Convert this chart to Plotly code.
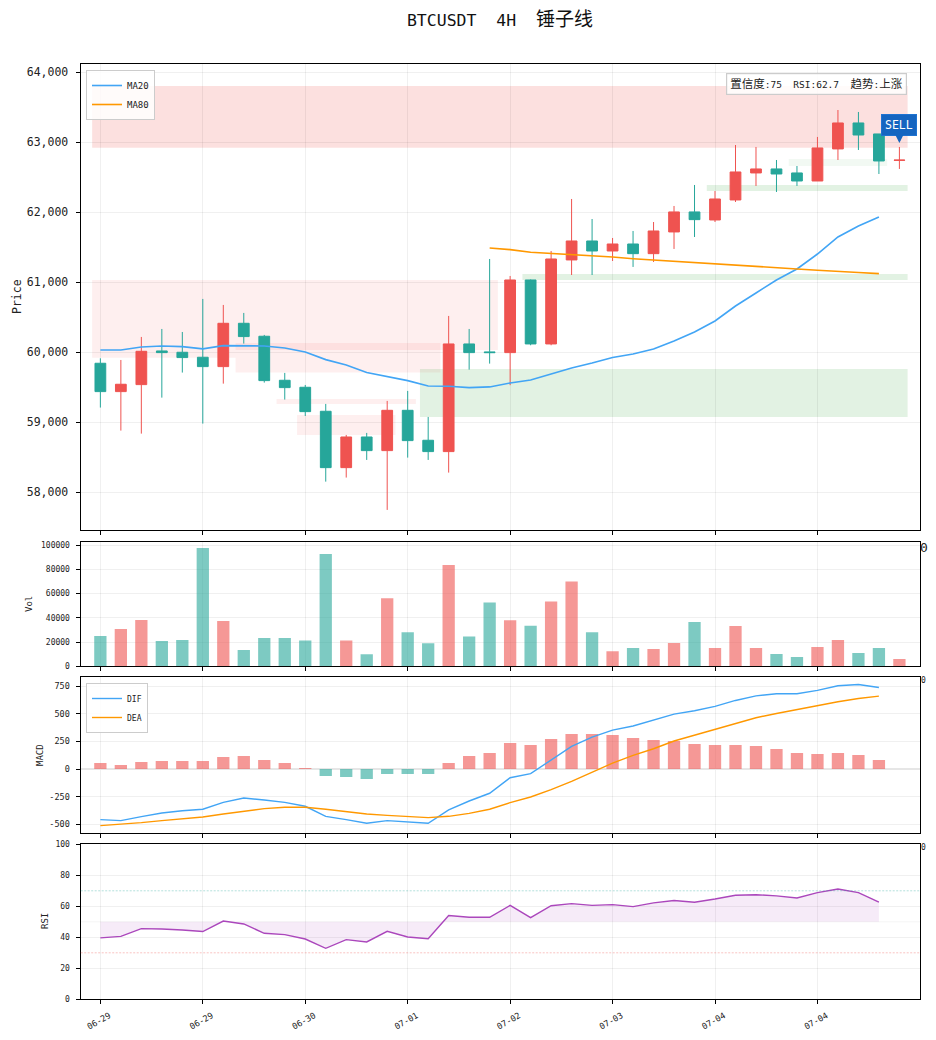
import plotly.graph_objects as go
from plotly.subplots import make_subplots

# candle data, 4H bars
idx = list(range(40))
opens = [59843, 59438, 59538, 60019, 60000, 59929, 59795, 60414, 60229, 59600,
         59500, 59157, 58352, 58790, 58595, 59171, 58743, 58581, 60119, 60005,
         59995, 61033, 60119, 61319, 61590, 61447, 61547, 61409, 61719, 62005,
         61890, 62176, 62562, 62619, 62562, 62447, 62905, 63276, 63119, 62742]
highs = [59914, 59890, 60219, 60333, 60290, 60762, 60676, 60562, 60248, 59705,
         59533, 59262, 58819, 58848, 59305, 59448, 59076, 60519, 60333, 61333,
         61090, 61040, 61447, 62190, 61904, 61633, 61733, 61861, 62090, 62390,
         62304, 62961, 62933, 62747, 62661, 63076, 63461, 63433, 63119, 62933]
lows = [59210, 58881, 58838, 59352, 59710, 58981, 59552, 60124, 59567, 59324,
        59090, 58152, 58210, 58462, 57748, 58495, 58462, 58281, 59752, 59838,
        59530, 60100, 60100, 61104, 61104, 61304, 61219, 61290, 61476, 61647,
        61861, 62147, 62376, 62290, 62376, 62447, 62747, 62890, 62547, 62619]
closes = [59438, 59543, 60014, 59995, 59924, 59795, 60414, 60224, 59595, 59495,
          59152, 58352, 58790, 58595, 59171, 58738, 58581, 60119, 59995, 59995,
          61033, 60119, 61333, 61590, 61447, 61547, 61409, 61733, 62005, 61895,
          62190, 62576, 62619, 62547, 62447, 62919, 63276, 63104, 62733, 62745]

ma20 = [60033, 60033, 60076, 60090, 60081, 60048, 60095, 60095, 60090, 60062,
        60005, 59895, 59819, 59710, 59657, 59595, 59519, 59514, 59495, 59505,
        59561, 59604, 59690, 59776, 59847, 59926, 59976, 60047, 60161, 60290,
        60447, 60661, 60847, 61033, 61190, 61404, 61647, 61804, 61933]
ma80 = [None] * 19 + [61490, 61467, 61429, 61414, 61391, 61377, 61361, 61337, 61319, 61301,
                      61284, 61269, 61253, 61236, 61214, 61190, 61171, 61159, 61140, 61123]

volume = [25000, 30770, 38200, 20900, 21700, 97500, 37400, 13500, 23350, 23350,
          21300, 92500, 21300, 10000, 56000, 28000, 19000, 83500, 24500, 52500,
          38000, 33500, 53500, 70000, 28000, 12500, 15000, 14300, 19200, 36500,
          15100, 33200, 15100, 10200, 7700, 15900, 21700, 11000, 15100, 6000]

dif = [-459, -468, -432, -399, -378, -365, -302, -263, -281, -302,
       -338, -429, -459, -492, -468, -477, -492, -371, -290, -220,
       -79, -42, 82, 205, 290, 353, 390, 444, 498, 529,
       568, 622, 664, 683, 683, 713, 755, 767, 740]
dea = [-513, -501, -486, -468, -450, -435, -408, -381, -359, -347,
       -347, -365, -387, -408, -420, -432, -441, -429, -402, -365,
       -305, -254, -187, -112, -30, 54, 124, 184, 254, 308,
       359, 414, 465, 504, 541, 574, 610, 640, 661]
hist = [54, 36, 63, 72, 72, 72, 109, 118, 82, 54,
        9, -63, -72, -91, -45, -45, -45, 54, 118, 145,
        236, 217, 272, 317, 317, 308, 281, 263, 254, 226,
        217, 217, 208, 181, 145, 136, 145, 127, 82]

rsi = [39.6, 40.6, 45.6, 45.4, 44.7, 43.7, 50.5, 48.6, 42.6, 41.7,
       38.9, 32.9, 38.5, 37.0, 43.9, 40.2, 39.1, 54.0, 52.9, 52.9,
       60.6, 52.7, 60.4, 61.7, 60.6, 61.1, 59.8, 62.2, 63.7, 62.6,
       64.7, 67.1, 67.5, 66.7, 65.4, 68.8, 71.2, 68.8, 62.7]
rsi_mid = [50] * 39

tick_pos = [0, 5, 10, 15, 20, 25, 30, 35]
tick_labels = ["06-29", "06-29", "06-30", "07-01", "07-02", "07-03", "07-04", "07-04"]
macd_ticks = [-500, -250, 0, 250, 500, 750]
macd_labels = ["-500", "-250", "0", "250", "500", "750"]

# supply / demand zones: x0, x1, y0, y1
zone_x0 = [-0.4, -0.4, -0.4, 6.6, 8.6, 9.6, 15.6, 20.6, 29.6, 33.6]
zone_x1 = [39.4, 19.4, 6.6, 16.6, 15.4, 14.4, 39.4, 39.4, 39.4, 38.4]
zone_y0 = [62923, 60033, 59920, 59710, 59262, 58819, 59076, 61033, 62304, 62661]
zone_y1 = [63803, 61033, 60033, 60133, 59333, 59105, 59762, 61119, 62390, 62762]
zone_fill = ["rgba(239,83,80,0.18)", "rgba(239,83,80,0.09)", "rgba(239,83,80,0.09)",
             "rgba(239,83,80,0.09)", "rgba(239,83,80,0.09)", "rgba(239,83,80,0.09)",
             "rgba(76,175,80,0.16)", "rgba(76,175,80,0.16)", "rgba(76,175,80,0.16)",
             "rgba(76,175,80,0.07)"]

RED = "#ef5350"
TEAL = "#26a69a"
RED_SOFT = "rgba(239,83,80,0.6)"
TEAL_SOFT = "rgba(38,166,154,0.6)"
BLUE = "#42a5f5"
ORANGE = "#ff9800"
PURPLE = "#ab47bc"
GRID = "rgba(0,0,0,0.06)"
FONT = '"DejaVu Sans Mono", "Noto Sans CJK SC", monospace'

W, H = 936, 1040


def cjk(text, size):
    return '<span style="font-size:%gpx">%s</span>' % (size, text)


fig = make_subplots(rows=4, cols=1, shared_xaxes=True)

fig.add_trace(go.Candlestick(
    x=idx, open=opens, high=highs, low=lows, close=closes,
    increasing=dict(line=dict(color=RED, width=1), fillcolor=RED),
    decreasing=dict(line=dict(color=TEAL, width=1), fillcolor=TEAL),
    whiskerwidth=0, showlegend=False, name="BTCUSDT"), row=1, col=1)
fig.add_trace(go.Scatter(x=idx, y=ma20, mode="lines", name="MA20",
                         line=dict(color=BLUE, width=1.6), legend="legend"), row=1, col=1)
fig.add_trace(go.Scatter(x=idx, y=ma80, mode="lines", name="MA80",
                         line=dict(color=ORANGE, width=1.6), legend="legend"), row=1, col=1)

vol_colors = [RED_SOFT if c >= o else TEAL_SOFT for o, c in zip(opens, closes)]
fig.add_trace(go.Bar(x=idx, y=volume, width=0.6, marker=dict(color=vol_colors, line_width=0),
                     showlegend=False, name="Vol"), row=2, col=1)

hist_colors = [RED_SOFT if v >= 0 else TEAL_SOFT for v in hist]
fig.add_trace(go.Bar(x=idx, y=hist, width=0.6, marker=dict(color=hist_colors, line_width=0),
                     showlegend=False, name="MACD"), row=3, col=1)
fig.add_trace(go.Scatter(x=idx, y=dif, mode="lines", name="DIF",
                         line=dict(color=BLUE, width=1.4), legend="legend2"), row=3, col=1)
fig.add_trace(go.Scatter(x=idx, y=dea, mode="lines", name="DEA",
                         line=dict(color=ORANGE, width=1.4), legend="legend2"), row=3, col=1)

fig.add_trace(go.Scatter(x=idx, y=rsi_mid, mode="lines", line=dict(width=0),
                         showlegend=False, hoverinfo="skip"), row=4, col=1)
fig.add_trace(go.Scatter(x=idx, y=rsi, mode="lines", name="RSI", fill="tonexty",
                         fillcolor="rgba(171,71,188,0.11)",
                         line=dict(color=PURPLE, width=1.4), showlegend=False), row=4, col=1)

for x0, x1, y0, y1, color in zip(zone_x0, zone_x1, zone_y0, zone_y1, zone_fill):
    fig.add_shape(type="rect", x0=x0, x1=x1, y0=y0, y1=y1, fillcolor=color,
                  line_width=0, layer="below", row=1, col=1)

fig.add_hline(y=70, line=dict(color="rgba(38,166,154,0.5)", width=0.7, dash="2px,1.5px"), row=4, col=1)
fig.add_hline(y=30, line=dict(color="rgba(239,83,80,0.5)", width=0.7, dash="2px,1.5px"), row=4, col=1)
fig.add_hline(y=50, line=dict(color="rgba(0,0,0,0.04)", width=1), layer="below", row=4, col=1)

# pixel layout of the four panels, top to bottom
panels = [(64.3, 530.0), (542.3, 666.3), (677.3, 833.3), (844.3, 999.3)]
y_ranges = [[57461, 64114], [0, 102226], [-583, 832], [0, 100]]
for i, (top, bottom) in enumerate(panels):
    fig.update_yaxes(domain=[1 - bottom / H, 1 - top / H], range=y_ranges[i], automargin=False,
                     showline=True, mirror=True, linecolor="black", linewidth=1.3,
                     ticks="outside", ticklen=4, tickcolor="black", tickwidth=1,
                     ticklabelstandoff=4,
                     showgrid=True, gridcolor=GRID, gridwidth=1, zeroline=False,
                     row=i + 1, col=1)
    fig.update_xaxes(domain=[80.7 / W, 920.3 / W], range=[-0.96, 40.02], automargin=False,
                     tickvals=tick_pos, ticktext=tick_labels, showticklabels=False,
                     showline=True, mirror=True, linecolor="black", linewidth=1.3,
                     ticks="outside", ticklen=4, tickcolor="black", tickwidth=1,
                     showgrid=True, gridcolor=GRID, gridwidth=1, zeroline=False,
                     rangeslider=dict(visible=False), row=i + 1, col=1)

fig.update_yaxes(tickformat=",d", dtick=1000, tick0=58000, tickfont=dict(size=11.5),
                 ticklabelstandoff=5, row=1, col=1)
fig.update_yaxes(tickformat="d", dtick=20000, tick0=0, tickfont=dict(size=8), row=2, col=1)
fig.update_yaxes(tickvals=macd_ticks, ticktext=macd_labels, tickfont=dict(size=8.5),
                 zeroline=True, zerolinecolor="#e6e6e6", zerolinewidth=1.5, row=3, col=1)
fig.update_yaxes(dtick=20, tick0=0, tickfont=dict(size=8), row=4, col=1)
fig.update_xaxes(showticklabels=True, tickangle=-30, tickfont=dict(size=8.5),
                 ticklabelstandoff=3, ticklabelshift=9, row=4, col=1)

side_titles = [("Price", 17, 297, 11.5), ("Vol", 29, 604, 9), ("MACD", 40, 755, 9), ("RSI", 45, 921, 9)]
for text, px, py, size in side_titles:
    fig.add_annotation(text=text, xref="paper", yref="paper", x=px / W, y=1 - py / H,
                       xanchor="center", yanchor="middle", textangle=-90, showarrow=False,
                       font=dict(size=size))

# stray clipped labels sitting on the right edge
for px, py, size in [(924, 547, 13), (923, 680, 8), (923, 847, 8)]:
    fig.add_annotation(text="0", xref="paper", yref="paper", x=px / W, y=1 - py / H,
                       xanchor="center", yanchor="middle", showarrow=False,
                       font=dict(size=size, color="#222222"))

info = cjk("置信度", 11.5) + ":75  RSI:62.7  " + cjk("趋势", 11.5) + ":" + cjk("上涨", 11.5)
fig.add_annotation(text=info, xref="paper", yref="paper", x=907 / W, y=1 - 84 / H,
                   xanchor="right", yanchor="middle", showarrow=False,
                   font=dict(size=9.5, color="#222222"),
                   bgcolor="rgba(255,255,255,0.85)", bordercolor="#cccccc", borderwidth=1.2,
                   borderpad=3)
fig.add_annotation(text="SELL", x=39, y=62990, xref="x", yref="y", showarrow=True,
                   arrowhead=2, arrowsize=1, arrowwidth=2, arrowcolor="#1565c0",
                   ax=0, ay=-18, font=dict(size=11.5, color="white"),
                   bgcolor="#1565c0", bordercolor="#1e73d2", borderwidth=1, borderpad=3)

legend_style = dict(bgcolor="rgba(255,255,255,0.85)", bordercolor="#cccccc", borderwidth=1,
                    xanchor="left", yanchor="top", itemwidth=30, tracegroupgap=0,
                    traceorder="normal", xref="paper", yref="paper")

fig.update_layout(
    width=W, height=H, autosize=False,
    margin=dict(l=0, r=0, t=0, b=0),
    paper_bgcolor="white", plot_bgcolor="white",
    font=dict(family=FONT, color="#222222", size=10),
    title=dict(text="BTCUSDT  4H  " + cjk("锤子线", 19), x=500 / W, xanchor="center",
               y=1 - 20 / H, yanchor="middle", font=dict(size=16.5, color="#111111")),
    boxgap=0.25, bargap=0.4, barmode="overlay", hovermode=False,
    legend=dict(x=86 / W, y=1 - 70 / H, font=dict(size=9), entrywidth=24, **legend_style),
    legend2=dict(x=86 / W, y=1 - 683 / H, font=dict(size=8), entrywidth=14, **legend_style),
    showlegend=True,
)

fig.write_html("out.html", config=dict(displayModeBar=False),
               post_script="document.body.style.margin = '0';")
